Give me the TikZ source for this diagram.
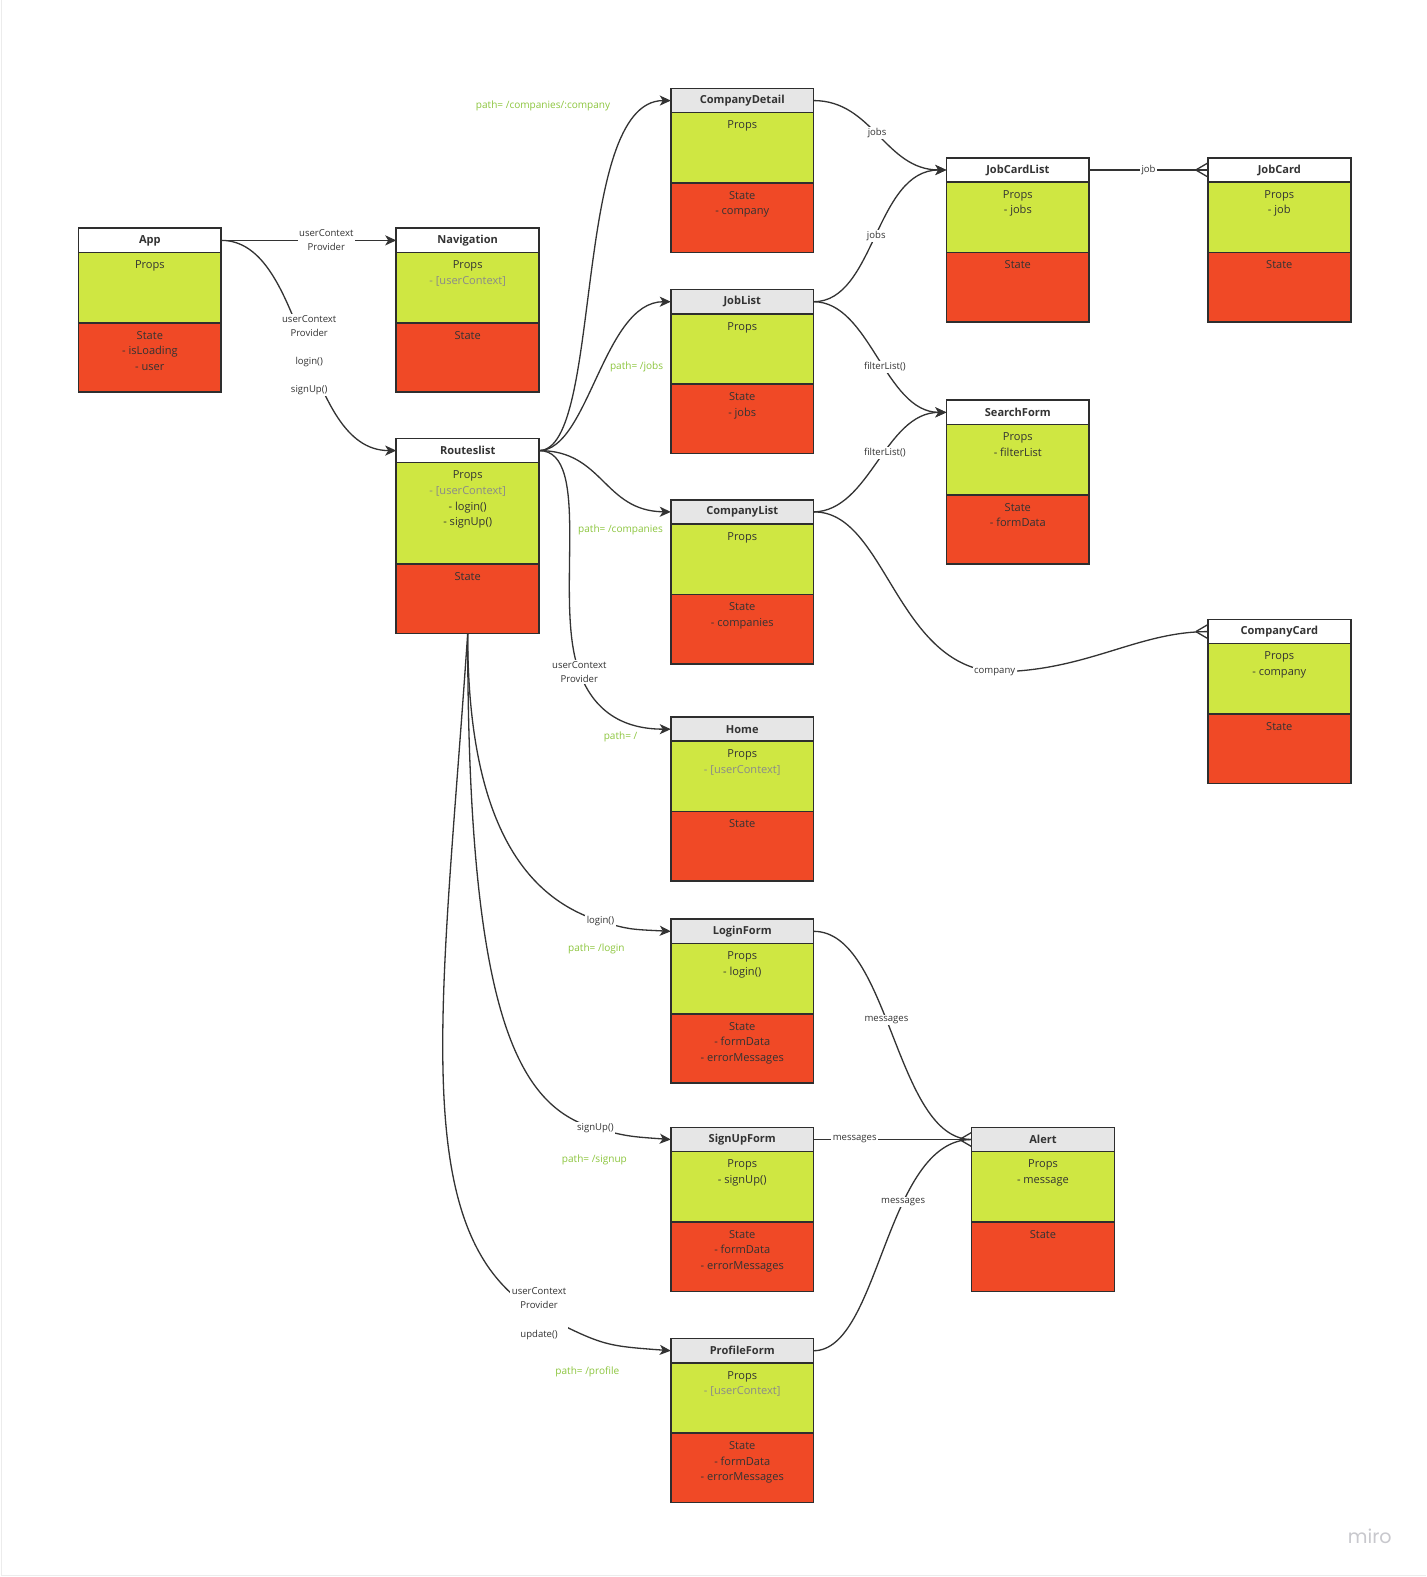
\documentclass[tikz,border=0pt]{standalone}
\usepackage{fontspec}
\setmainfont{Open Sans}
\newfontfamily\logofont{Poppins}
\usetikzlibrary{arrows.meta,calc}

\definecolor{propsgreen}{RGB}{207,231,66}
\definecolor{statered}{RGB}{240,73,38}
\definecolor{hdrgray}{RGB}{230,230,230}
\definecolor{boxline}{RGB}{46,46,46}
\definecolor{inktext}{RGB}{51,51,51}
\definecolor{ctxgray}{RGB}{138,138,138}
\definecolor{wire}{RGB}{51,51,51}
\definecolor{pathgreen}{RGB}{141,198,63}
\definecolor{framegray}{RGB}{236,236,236}
\definecolor{logogray}{RGB}{200,200,205}

\tikzset{
  hdr/.style={draw=boxline, line width=1.6pt, minimum width=142pt, minimum height=24pt,
    inner sep=0pt, outer sep=0pt, font=\fontsize{11}{13}\selectfont\bfseries, text=inktext,
    anchor=north west},
  propsbox/.style={draw=boxline, line width=1.6pt, fill=propsgreen, minimum width=142pt,
    inner sep=0pt, outer sep=0pt, anchor=north west},
  statebox/.style={draw=boxline, line width=1.6pt, fill=statered, minimum width=142pt,
    minimum height=69pt, inner sep=0pt, outer sep=0pt, anchor=north west},
  sectxt/.style={anchor=north, inner sep=0pt, align=center, text=inktext,
    font=\fontsize{11}{15.5}\selectfont},
  wirestyle/.style={draw=wire, line width=1.3pt},
  arrowwire/.style={wirestyle, -{Stealth[length=11pt,width=10pt,inset=3pt]}},
  elabel/.style={fill=white, inner sep=1.5pt, text=inktext, align=center,
    font=\fontsize{9.5}{14}\selectfont},
  routelabel/.style={text=pathgreen, inner sep=1pt, font=\fontsize{10}{12}\selectfont},
}

% greyed-out context entry inside a props list
\newcommand{\ctx}[1]{\textcolor{ctxgray}{#1}}

% component box: name, x, y, title, header fill, props text, props height, state text
\newcommand{\comp}[8]{%
  \node[hdr, fill=#5] (#1) at (#2,#3) {#4};
  \node[propsbox, minimum height=#7] (#1-props) at (#1.south west) {};
  \node[statebox] (#1-state) at (#1-props.south west) {};
  \node[sectxt] (#1-ptext) at ([yshift=-6.5pt]#1-props.north) {\rule{0pt}{9.5pt}#6};
  \node[sectxt] (#1-stext) at ([yshift=-6.5pt]#1-state.north) {\rule{0pt}{9.5pt}#8};
}

% "many" fork where a connector meets a box
\newcommand{\crowfoot}[1]{%
  \draw[wirestyle] ($(#1.west)+(-12,0)$) -- ($(#1.west)+(0,-7)$)
                   ($(#1.west)+(-12,0)$) -- ($(#1.west)+(0,7)$);
}

\begin{document}
\begin{tikzpicture}[x=1pt,y=-1pt]
\useasboundingbox (0,0) rectangle (1418,1568);
\fill[white] (0,0) rectangle (1418,1568);
\draw[framegray, line width=1pt] (1,0) -- (1,1566) -- (1418,1566);

% ---------- components ----------
\comp{app}{78}{227}{App}{white}{Props}{70pt}{State\\- isLoading\\- user}
\comp{nav}{394}{227}{Navigation}{white}{Props\\\ctx{- [userContext]}}{70pt}{State}
\comp{rl}{394}{436}{Routeslist}{white}{Props\\\ctx{- [userContext]}\\- login()\\- signUp()}{101pt}{State}

\comp{cd}{667}{88}{CompanyDetail}{hdrgray}{Props}{70pt}{State\\- company}
\comp{jl}{667}{288}{JobList}{hdrgray}{Props}{70pt}{State\\- jobs}
\comp{cl}{667}{497}{CompanyList}{hdrgray}{Props}{70pt}{State\\- companies}
\comp{home}{667}{713}{Home}{hdrgray}{Props\\\ctx{- [userContext]}}{70pt}{State}
\comp{login}{667}{914}{LoginForm}{hdrgray}{Props\\- login()}{70pt}{State\\- formData\\- errorMessages}
\comp{signup}{667}{1121}{SignUpForm}{hdrgray}{Props\\- signUp()}{70pt}{State\\- formData\\- errorMessages}
\comp{profile}{667}{1331}{ProfileForm}{hdrgray}{Props\\\ctx{- [userContext]}}{70pt}{State\\- formData\\- errorMessages}

\comp{jcl}{941}{157}{JobCardList}{white}{Props\\- jobs}{70pt}{State}
\comp{jc}{1201}{157}{JobCard}{white}{Props\\- job}{70pt}{State}
\comp{sf}{941}{398}{SearchForm}{white}{Props\\- filterList}{70pt}{State\\- formData}
\comp{cc}{1201}{616}{CompanyCard}{white}{Props\\- company}{70pt}{State}
\comp{alert}{966}{1121}{Alert}{hdrgray}{Props\\- message}{70pt}{State}

% ---------- App ----------
\draw[arrowwire] (app.east) -- (nav.west)
  node[elabel, pos=0.6] (lbl-appnav) {userContext\\Provider};
\draw[arrowwire] (app.east) .. controls (305,239) and (300,448) .. (rl.west)
  node[elabel, pos=0.53] (lbl-apprl) {userContext\\Provider\\[14pt]login()\\[14pt]signUp()};

% ---------- Routeslist routes ----------
\draw[arrowwire] (rl.east) .. controls (600,448) and (568,100) .. (cd.west);
\draw[arrowwire] (rl.east) .. controls (585,448) and (600,300) .. (jl.west);
\draw[arrowwire] (rl.east) .. controls (600,448) and (600,508) .. (cl.west);
\draw[arrowwire] (rl.east) .. controls (590,448) and (550,600) .. (576,668)
  node[elabel] (lbl-home) {userContext\\Provider}
  .. controls (592,712) and (625,725) .. (home.west);
\draw[arrowwire] (rl-state.south) .. controls (465,830) and (530,895) .. (597,916)
  node[elabel] (lbl-login) {login()}
  .. controls (625,924) .. (login.west);
\draw[arrowwire] (rl-state.south) .. controls (465,1010) and (515,1100) .. (592,1122)
  node[elabel] (lbl-signup) {signUp()}
  .. controls (625,1130) .. (signup.west);
\draw[arrowwire] (rl-state.south) .. controls (440,1000) and (402,1230) .. (536,1306)
  node[elabel] (lbl-profile) {userContext\\Provider\\[15pt]update()}
  .. controls (600,1338) .. (profile.west);

\node[routelabel] (path-cd) at (540,105) {path= /companies/:company};
\node[routelabel] (path-jl) at (633,365) {path= /jobs};
\node[routelabel] (path-cl) at (617,527) {path= /companies};
\node[routelabel] (path-home) at (617,733) {path= /};
\node[routelabel] (path-login) at (593,943) {path= /login};
\node[routelabel] (path-signup) at (591,1153) {path= /signup};
\node[routelabel] (path-profile) at (584,1364) {path= /profile};

% ---------- jobs and companies ----------
\draw[arrowwire] (cd.east) .. controls (868,100) and (880,169) .. (jcl.west)
  node[elabel, pos=0.48] (lbl-cdjobs) {jobs};
\draw[arrowwire] (jl.east) .. controls (870,300) and (870,169) .. (jcl.west)
  node[elabel, pos=0.5] (lbl-jljobs) {jobs};
\draw[arrowwire] (jl.east) .. controls (865,300) and (880,410) .. (sf.west)
  node[elabel, pos=0.56] (lbl-jlfilter) {filterList()};
\draw[arrowwire] (cl.east) .. controls (865,508) and (880,410) .. (sf.west)
  node[elabel, pos=0.56] (lbl-clfilter) {filterList()};

\draw[wirestyle] (jcl.east) -- (jc.west) node[elabel, pos=0.5] (lbl-job) {job};
\crowfoot{jc}

\draw[wirestyle] (cl.east) .. controls (880,508) and (890,660) .. (989,668)
  node[elabel] (lbl-company) {company}
  .. controls (1080,668) and (1130,628) .. (cc.west);
\crowfoot{cc}

% ---------- messages ----------
\draw[wirestyle] (login.east) .. controls (885,926) and (890,1133) .. (alert.west)
  node[elabel, pos=0.45] (lbl-msg1) {messages};
\draw[wirestyle] (signup.east) -- (alert.west)
  node[elabel, pos=0.26] (lbl-msg2) {messages};
\draw[wirestyle] (profile.east) .. controls (875,1343) and (880,1133) .. (alert.west)
  node[elabel, pos=0.64] (lbl-msg3) {messages};
\crowfoot{alert}

\node[font=\logofont\fontsize{19}{20}\selectfont, text=logogray] (logo) at (1362,1528) {miro};
\end{tikzpicture}
\end{document}
